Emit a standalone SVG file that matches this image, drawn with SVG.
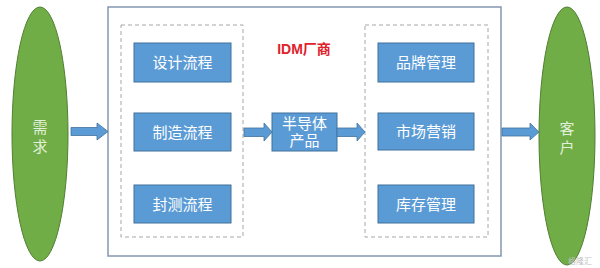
<svg xmlns="http://www.w3.org/2000/svg" width="600" height="268" viewBox="0 0 600 268">
<style>
.box{fill:#5B9BD5;stroke:#41719C;stroke-width:1}
.bt{font-family:"Liberation Sans","Noto Sans CJK SC",sans-serif;font-size:15px;fill:#ffffff;text-anchor:middle}
.ell{fill:#70AD47;stroke:#507E32;stroke-width:1}
.et{font-family:"Liberation Sans","Noto Sans CJK SC",sans-serif;font-size:15px;fill:#E2F0D9;text-anchor:middle}
.dash{fill:none;stroke:#A6A6A6;stroke-width:1;stroke-dasharray:4,3}
.arr{fill:#5B9BD5;stroke:#41719C;stroke-width:0.8}
</style>
<rect width="600" height="268" fill="#ffffff"/>
<g id="demand">
<ellipse class="ell" cx="40" cy="134" rx="28" ry="127"/>
<text class="et" x="40" y="133">需</text>
<text class="et" x="40" y="152">求</text>
</g>
<g id="customer">
<ellipse class="ell" cx="567" cy="136" rx="28" ry="129"/>
<text class="et" x="567" y="134">客</text>
<text class="et" x="567" y="153">户</text>
</g>
<g id="idm">
<rect x="108" y="7" width="393" height="249" fill="#ffffff" stroke="#8497B0" stroke-width="1.5"/>
<text x="304" y="54" font-family="Liberation Sans,'Noto Sans CJK SC',sans-serif" font-size="14" font-weight="bold" fill="#E0202A" text-anchor="middle">IDM厂商</text>
</g>
<g id="left-group">
<rect class="dash" x="121" y="25" width="122" height="212"/>
</g>
<g id="right-group">
<rect class="dash" x="365" y="25" width="123" height="212"/>
</g>
<g id="design"><rect class="box" x="134" y="43" width="97" height="39"/><text class="bt" x="182.5" y="68">设计流程</text></g>
<g id="manufacture"><rect class="box" x="134" y="113" width="97" height="38"/><text class="bt" x="182.5" y="137.5">制造流程</text></g>
<g id="package"><rect class="box" x="134" y="185" width="97" height="38"/><text class="bt" x="182.5" y="209.5">封测流程</text></g>
<g id="product"><rect class="box" x="272" y="113" width="65" height="38"/><text class="bt" x="304.5" y="129">半导体</text><text class="bt" x="304.5" y="146">产品</text></g>
<g id="brand"><rect class="box" x="378" y="43" width="96" height="39"/><text class="bt" x="426" y="68">品牌管理</text></g>
<g id="marketing"><rect class="box" x="378" y="113" width="96" height="37"/><text class="bt" x="426" y="137">市场营销</text></g>
<g id="inventory"><rect class="box" x="378" y="185" width="96" height="38"/><text class="bt" x="426" y="209.5">库存管理</text></g>
<g id="connectors">
<polygon class="arr" points="71,127.5 97,127.5 97,123 108,131.5 97,140 97,135.5 71,135.5"/>
<polygon class="arr" points="244,128 264,128 264,123 272,132 264,141 264,136.5 244,136.5"/>
<polygon class="arr" points="337,128 357,128 357,123 365,132 357,141 357,136.5 337,136.5"/>
<polygon class="arr" points="502,128 530,128 530,123 539,132 530,140 530,136 502,136"/>
</g>
<text x="580" y="264" font-family="Liberation Sans,'Noto Sans CJK SC',sans-serif" font-size="8" fill="#C0C0C0" text-anchor="middle">格隆汇</text>
</svg>
